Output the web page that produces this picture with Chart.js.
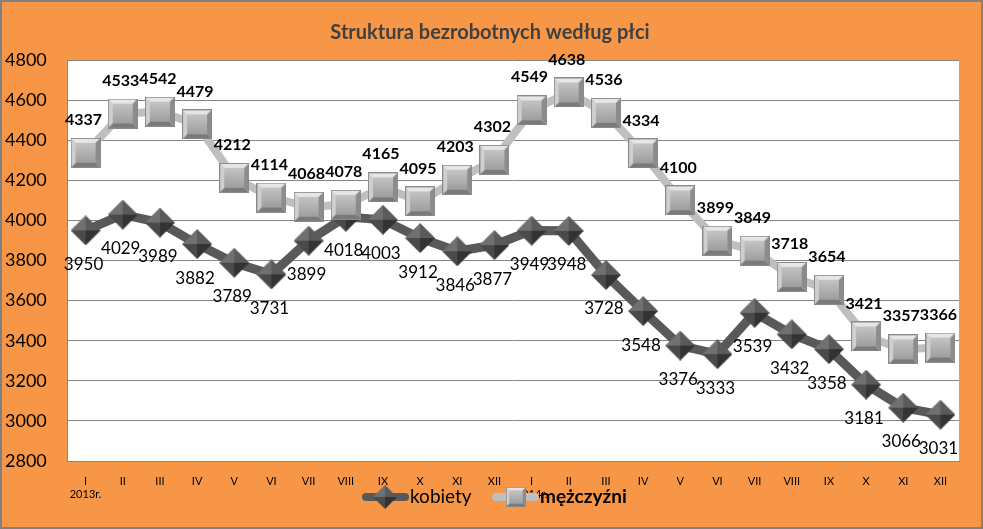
<!DOCTYPE html>
<html>
<head>
<meta charset="utf-8">
<script src="https://cdn.jsdelivr.net/npm/chart.js@4.4.1/dist/chart.umd.min.js"></script>
<style>
  html, body { margin: 0; padding: 0; background: #F79646; }
  #wrap { width: 983px; height: 529px; position: relative; }
</style>
</head>
<body>
<div id="wrap"><canvas id="chart" width="983" height="529"></canvas></div>
<script>
/* ─── DATA ─────────────────────────────────────────── */
const miesiace = ['I','II','III','IV','V','VI','VII','VIII','IX','X','XI','XII',
                  'I','II','III','IV','V','VI','VII','VIII','IX','X','XI','XII'];
const lata = { 0: '2013r.', 12: '2014r.' };
const kobiety = [3950,4029,3989,3882,3789,3731,3899,4018,4003,3912,3846,3877,
                 3949,3948,3728,3548,3376,3333,3539,3432,3358,3181,3066,3031];
const mezczyzni = [4337,4533,4542,4479,4212,4114,4068,4078,4165,4095,4203,4302,
                   4549,4638,4536,4334,4100,3899,3849,3718,3654,3421,3357,3366];
const yMin = 2800, yMax = 4800, yStep = 200;
const tytul = 'Struktura bezrobotnych według płci';

const FONT = "Lato, 'Open Sans', sans-serif";

/* ─── MARKERS: small 3D-looking canvases ─────────────── */
function diamondMarker(s) {
  const c = document.createElement('canvas');
  c.width = s; c.height = s;
  const g = c.getContext('2d');
  const m = s / 2;
  const tri = (pts, col) => {
    g.beginPath(); g.moveTo(pts[0][0], pts[0][1]);
    pts.slice(1).forEach(p => g.lineTo(p[0], p[1]));
    g.closePath(); g.fillStyle = col; g.fill();
  };
  tri([[m,0],[0,m],[m,m]], '#707070');
  tri([[m,0],[s,m],[m,m]], '#5a5a5a');
  tri([[0,m],[m,s],[m,m]], '#4a4a4a');
  tri([[s,m],[m,s],[m,m]], '#333333');
  return c;
}

function squareMarker(s) {
  const c = document.createElement('canvas');
  c.width = s; c.height = s;
  const g = c.getContext('2d');
  const b = 5;
  const quad = (pts, col) => {
    g.beginPath(); g.moveTo(pts[0][0], pts[0][1]);
    pts.slice(1).forEach(p => g.lineTo(p[0], p[1]));
    g.closePath(); g.fillStyle = col; g.fill();
  };
  quad([[0,0],[s,0],[s-b,b],[b,b]], '#e6e6e6');
  quad([[0,0],[b,b],[b,s-b],[0,s]], '#cfcfcf');
  quad([[s,0],[s,s],[s-b,s-b],[s-b,b]], '#8c8c8c');
  quad([[0,s],[b,s-b],[s-b,s-b],[s,s]], '#7a7a7a');
  const gr = g.createLinearGradient(0, b, 0, s - b);
  gr.addColorStop(0, '#c4c4c4');
  gr.addColorStop(1, '#9e9e9e');
  g.fillStyle = gr;
  g.fillRect(b, b, s - 2 * b, s - 2 * b);
  g.strokeStyle = '#8a8a8a'; g.lineWidth = 1;
  g.strokeRect(0.5, 0.5, s - 1, s - 1);
  return c;
}

const diamond = diamondMarker(30);
const square = squareMarker(30);

/* ─── PLUGINS ───────────────────────────────────────── */
const backgroundPlugin = {
  id: 'tlo',
  beforeDraw(chart) {
    const { ctx, chartArea: a, width, height } = chart;
    ctx.save();
    ctx.fillStyle = '#F79646';
    ctx.fillRect(0, 0, width, height);
    ctx.fillStyle = '#ffffff';
    ctx.fillRect(a.left, a.top, a.right - a.left, a.bottom - a.top);
    ctx.strokeStyle = '#808080';
    ctx.lineWidth = 2;
    ctx.strokeRect(1, 1, width - 2, height - 2);
    ctx.restore();
  }
};

const labelsPlugin = {
  id: 'etykiety',
  afterDatasetsDraw(chart) {
    const { ctx } = chart;
    ctx.save();
    ctx.textAlign = 'center';
    ctx.textBaseline = 'middle';
    ctx.fillStyle = '#000';
    chart.data.datasets.forEach((ds, di) => {
      const meta = chart.getDatasetMeta(di);
      const above = ds.label === 'mężczyźni';
      ctx.font = (above ? 'bold 16px ' : '17px ') + FONT;
      meta.data.forEach((pt, i) => {
        ctx.fillText(String(ds.data[i]), pt.x - 2, above ? pt.y - 33 : pt.y + 34);
      });
    });
    ctx.restore();
  },
  afterDraw(chart) {
    const { ctx } = chart;
    ctx.save();
    // title
    ctx.fillStyle = '#404040';
    ctx.font = 'bold 20px ' + FONT;
    ctx.textAlign = 'center';
    ctx.textBaseline = 'middle';
    ctx.fillText(tytul, 490, 33);
    // legend
    const ly = 497;
    ctx.lineCap = 'round';
    ctx.strokeStyle = '#595959'; ctx.lineWidth = 8;
    ctx.beginPath(); ctx.moveTo(366, ly); ctx.lineTo(405, ly); ctx.stroke();
    ctx.drawImage(diamond, 385 - 12, ly - 12, 24, 24);
    ctx.fillStyle = '#000';
    ctx.textAlign = 'left';
    ctx.font = '19px ' + FONT;
    ctx.fillText('kobiety', 410, ly);
    ctx.strokeStyle = '#BFBFBF';
    ctx.beginPath(); ctx.moveTo(496, ly); ctx.lineTo(535, ly); ctx.stroke();
    ctx.drawImage(square, 506, ly - 10, 20, 20);
    ctx.font = 'bold 19px ' + FONT;
    ctx.fillText('mężczyźni', 540, ly);
    ctx.restore();
  }
};

/* ─── CHART ─────────────────────────────────────────── */
const labels = miesiace.map((m, i) => lata[i] ? [m, lata[i]] : m);

new Chart(document.getElementById('chart'), {
  type: 'line',
  data: {
    labels: labels,
    datasets: [
      {
        label: 'kobiety',
        data: kobiety,
        borderColor: '#595959',
        borderWidth: 9,
        pointStyle: diamond,
        pointRadius: 15,
        order: 1
      },
      {
        label: 'mężczyźni',
        data: mezczyzni,
        borderColor: '#BFBFBF',
        borderWidth: 8,
        pointStyle: square,
        pointRadius: 15,
        order: 0
      }
    ]
  },
  options: {
    responsive: false,
    animation: false,
    layout: { padding: { left: 5, right: 18, top: 60, bottom: 0 } },
    plugins: {
      legend: { display: false },
      title: { display: false },
      tooltip: { enabled: false }
    },
    scales: {
      x: {
        offset: true,
        grid: { display: false },
        border: { color: '#868686' },
        ticks: {
          color: '#000',
          font: { family: FONT, size: 11 },
          maxRotation: 0,
          autoSkip: false,
          padding: 6
        },
        afterFit(scale) { scale.height = 68; }
      },
      y: {
        min: yMin,
        max: yMax,
        grid: { color: '#868686', drawTicks: false },
        border: { color: '#868686' },
        ticks: {
          stepSize: yStep,
          color: '#000',
          crossAlign: 'far',
          font: { family: FONT, size: 18 },
          callback: (v) => String(v)
        },
        afterFit(scale) { scale.width = 62; }
      }
    }
  },
  plugins: [backgroundPlugin, labelsPlugin]
});
</script>
</body>
</html>
